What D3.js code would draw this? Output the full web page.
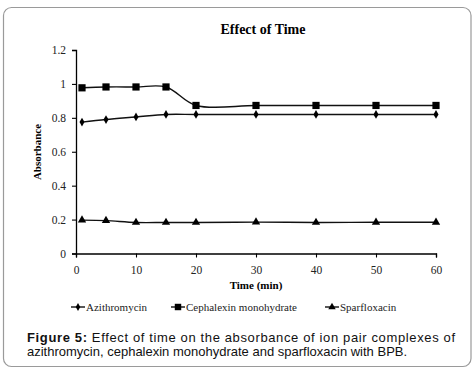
<!DOCTYPE html>
<html>
<head>
<meta charset="utf-8">
<script src="https://cdn.jsdelivr.net/npm/d3@7"></script>
<style>
  body { margin: 0; background: #fff; }
</style>
</head>
<body>
<div id="chart"></div>
<script>
var times = [1, 5, 10, 15, 20, 30, 40, 50, 60];
var azithromycin = [0.775, 0.79, 0.805, 0.82, 0.82, 0.82, 0.82, 0.82, 0.82];
var cephalexin = [0.977, 0.982, 0.982, 0.982, 0.873, 0.873, 0.873, 0.873, 0.873];
var sparfloxacin = [0.197, 0.194, 0.183, 0.183, 0.183, 0.185, 0.183, 0.184, 0.184];
var xTicks = [0, 10, 20, 30, 40, 50, 60];
var yTicks = [0, 0.2, 0.4, 0.6, 0.8, 1, 1.2];

var serif = "'Liberation Serif', 'Times New Roman', serif";
var sans = "'Liberation Sans', Arial, sans-serif";

var series = [
    { name: "Azithromycin", values: azithromycin, symbol: d3.symbolDiamond, size: 22, legendX: 71 },
    { name: "Cephalexin monohydrate", values: cephalexin, symbol: d3.symbolSquare, size: 52, legendX: 171 },
    { name: "Sparfloxacin", values: sparfloxacin, symbol: d3.symbolTriangle, size: 30, legendX: 325 }
];

var W = 473, H = 373;
var svg = d3.select("#chart").append("svg")
    .attr("width", W)
    .attr("height", H)
    .style("font-family", serif);

// frame
svg.append("rect")
    .attr("x", 3.5).attr("y", 7.5)
    .attr("width", 467.5).attr("height", 359)
    .attr("rx", 8)
    .attr("fill", "none")
    .attr("stroke", "#9a9a9a")
    .attr("stroke-width", 1.2);

var x = d3.scaleLinear().domain([0, 60]).range([76, 436]);
var y = d3.scaleLinear().domain([0, 1.2]).range([253.5, 50]);

var g = svg.append("g");

// axes
var yAxis = g.append("g")
    .attr("transform", "translate(" + x(0) + ",0)")
    .call(d3.axisLeft(y).tickValues(yTicks).tickSize(4).tickPadding(6)
        .tickFormat(function(d) { return d3.format("")(+d.toFixed(1)); }));
var xAxis = g.append("g")
    .attr("transform", "translate(0," + y(0) + ")")
    .call(d3.axisBottom(x).tickValues(xTicks).tickSize(4).tickPadding(8));

[xAxis, yAxis].forEach(function(a) {
    a.select(".domain").attr("stroke", "#000").attr("stroke-width", 1.3);
    a.selectAll(".tick line").attr("stroke", "#000").attr("stroke-width", 1.1);
    a.selectAll(".tick text")
        .style("font-family", serif)
        .attr("font-size", 11.5)
        .attr("fill", "#222");
});

// title and axis labels
svg.append("text")
    .attr("x", 263).attr("y", 34)
    .attr("text-anchor", "middle")
    .attr("font-weight", "bold")
    .attr("font-size", 14)
    .text("Effect of Time");

svg.append("text")
    .attr("transform", "translate(41,152) rotate(-90)")
    .attr("text-anchor", "middle")
    .attr("font-weight", "bold")
    .attr("font-size", 11)
    .text("Absorbance");

svg.append("text")
    .attr("x", 256).attr("y", 289)
    .attr("text-anchor", "middle")
    .attr("font-weight", "bold")
    .attr("font-size", 11)
    .text("Time (min)");

// lines
var line = d3.line()
    .x(function(d) { return x(d.t); })
    .y(function(d) { return y(d.v); })
    .curve(d3.curveCatmullRom.alpha(0.5));

series.forEach(function(s) {
    var pts = times.map(function(t, i) { return { t: t, v: s.values[i] }; });
    g.append("path")
        .datum(pts)
        .attr("fill", "none")
        .attr("stroke", "#111")
        .attr("stroke-width", 1.4)
        .attr("d", line);
    g.selectAll(null)
        .data(pts)
        .enter().append("path")
        .attr("transform", function(d) { return "translate(" + x(d.t) + "," + y(d.v) + ")"; })
        .attr("d", d3.symbol().type(s.symbol).size(s.size))
        .attr("fill", "#000");
});

// legend
var leg = svg.append("g");
series.forEach(function(s) {
    var ly = 307;
    leg.append("line")
        .attr("x1", s.legendX).attr("x2", s.legendX + 14)
        .attr("y1", ly).attr("y2", ly)
        .attr("stroke", "#111").attr("stroke-width", 1.4);
    leg.append("path")
        .attr("transform", "translate(" + (s.legendX + 7) + "," + ly + ")")
        .attr("d", d3.symbol().type(s.symbol).size(s.size * 0.8))
        .attr("fill", "#000");
    leg.append("text")
        .attr("x", s.legendX + 15).attr("y", ly + 4)
        .attr("font-size", 11)
        .attr("fill", "#222")
        .text(s.name);
});

// caption
var cap1 = svg.append("text")
    .attr("x", 27).attr("y", 342)
    .style("font-family", sans)
    .attr("font-size", 13)
    .attr("fill", "#111")
    .attr("textLength", 428)
    .attr("lengthAdjust", "spacing");
cap1.append("tspan").attr("font-weight", "bold").text("Figure 5:");
cap1.append("tspan").text(" Effect of time on the absorbance of ion pair complexes of");

svg.append("text")
    .attr("x", 27).attr("y", 356)
    .style("font-family", sans)
    .attr("font-size", 13)
    .attr("fill", "#111")
    .text("azithromycin, cephalexin monohydrate and sparfloxacin with BPB.");
</script>
</body>
</html>
